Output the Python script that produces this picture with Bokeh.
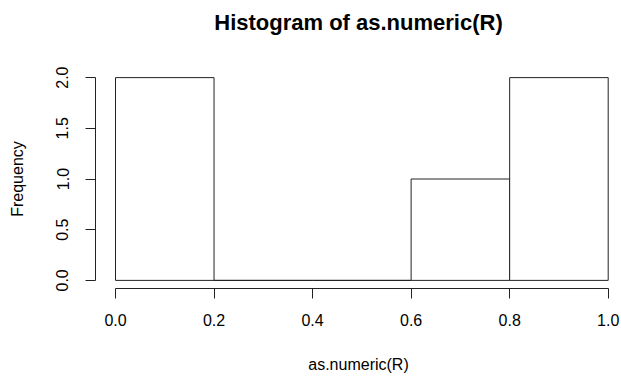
from bokeh.plotting import figure
from bokeh.models import Range1d, FixedTicker, Title
from bokeh.embed import file_html
from bokeh.resources import INLINE

# data
breaks = [0.0, 0.2, 0.4, 0.6, 0.8, 1.0]
counts = [2, 0, 0, 1, 2]
x_ticks = [0.0, 0.2, 0.4, 0.6, 0.8, 1.0]
y_ticks = [0.0, 0.5, 1.0, 1.5, 2.0]
title_text = "Histogram of as.numeric(R)"
x_label = "as.numeric(R)"
y_label = "Frequency"

FONT = "Liberation Sans"
LINE = "#222222"

p = figure(width=621, height=376, output_backend="svg", toolbar_location=None,
           x_range=Range1d(-0.0406, 1.027), y_range=Range1d(-0.08, 2.08),
           min_border_left=95, min_border_right=0, min_border_top=69,
           min_border_bottom=88)
p.outline_line_color = None
p.grid.visible = False
p.background_fill_color = "white"
p.border_fill_color = "white"

# spacer between frame and title (keeps the title near the top)
p.add_layout(Title(text=" ", text_font_size="16px", standoff=14), "above")
p.add_layout(Title(text=title_text, align="center", text_font=FONT,
                   text_font_size="22px", text_font_style="bold",
                   text_color="black", standoff=4), "above")

p.quad(left=breaks[:-1], right=breaks[1:], bottom=0, top=counts,
       fill_color="white", line_color=LINE, line_width=1)

for ax in (p.xaxis[0], p.yaxis[0]):
    ax.axis_line_color = LINE
    ax.major_tick_line_color = LINE
    ax.minor_tick_line_color = None
    ax.major_tick_out = 10
    ax.major_tick_in = 0
    ax.major_label_text_font = FONT
    ax.major_label_text_font_size = "16px"
    ax.major_label_text_color = "black"
    ax.axis_label_text_font = FONT
    ax.axis_label_text_font_size = "16px"
    ax.axis_label_text_font_style = "normal"
    ax.axis_label_text_color = "black"

xa = p.xaxis[0]
xa.ticker = FixedTicker(ticks=x_ticks)
xa.bounds = (0, 1)
xa.major_label_overrides = {t: f"{t:.1f}" for t in x_ticks}
xa.major_label_standoff = 15
xa.axis_label = x_label
xa.axis_label_standoff = 27

ya = p.yaxis[0]
ya.ticker = FixedTicker(ticks=y_ticks)
ya.bounds = (0, 2)
ya.major_label_overrides = {t: f"{t:.1f}" for t in y_ticks}
ya.major_label_orientation = "vertical"
ya.major_label_standoff = 17
ya.axis_label = y_label
ya.axis_label_standoff = 28

open("out.html", "w").write(file_html(p, INLINE))
